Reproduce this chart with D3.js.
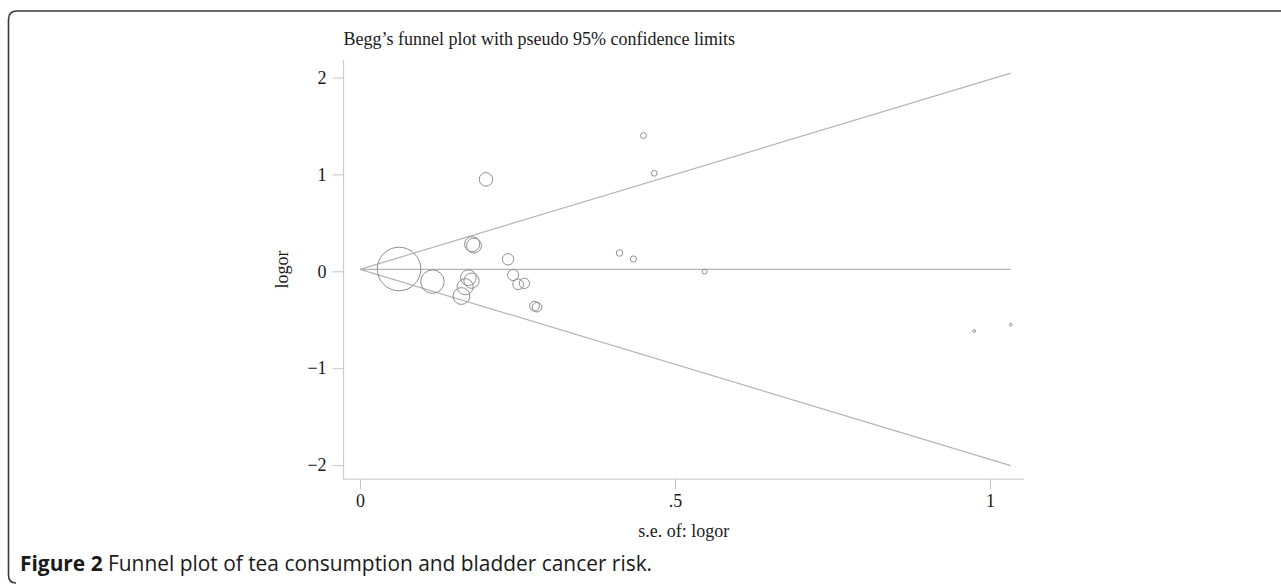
<!DOCTYPE html>
<html>
<head>
<meta charset="utf-8">
<script src="https://cdn.jsdelivr.net/npm/d3@7"></script>
<style>
  html, body { margin: 0; padding: 0; background: #fff; }
  svg { display: block; }
</style>
</head>
<body>
<div id="chart"></div>
<script>
// study standard errors and log odds ratios
const se    = [0.062, 0.115, 0.161, 0.167, 0.172, 0.177, 0.178, 0.181, 0.200, 0.235, 0.243, 0.251, 0.261, 0.277, 0.281, 0.412, 0.434, 0.450, 0.467, 0.547, 0.975, 1.033];
const logor = [0.024, -0.107, -0.255, -0.159, -0.066, -0.097, 0.280, 0.265, 0.949, 0.124, -0.038, -0.134, -0.124, -0.360, -0.370, 0.189, 0.127, 1.400, 1.011, -0.004, -0.616, -0.551];
const pooled = 0.02;
const xTicks = [0, 0.5, 1];
const xTickLabels = ['0', '.5', '1'];
const yTicks = [2, 1, 0, -1, -2];
const yTickLabels = ['2', '1', '0', '\u22121', '\u22122'];
const title = 'Begg\u2019s funnel plot with pseudo 95% confidence limits';
const caption = 'Funnel plot of tea consumption and bladder cancer risk.';

const width = 1281, height = 584;
const serif = '"Liberation Serif", "DejaVu Serif", serif';

const svg = d3.select('#chart').append('svg')
    .attr('width', width)
    .attr('height', height);

// page frame: top rule and left rule with rounded corners
svg.append('path')
    .attr('d', `M${width},11 H17 Q8.5,11 8.5,19.5 V575 Q8.5,583 16,583`)
    .attr('fill', 'none')
    .attr('stroke', '#3a3a3a')
    .attr('stroke-width', 1.6);

const x = d3.scaleLinear().domain([0, 1]).range([360, 990]);
const y = d3.scaleLinear().domain([0, 2]).range([271.3, 77.5]);

const xLo = -0.026, xHi = 1.054;
const yLo = -2.145, yHi = 2.18;
const axisColor = '#c4c4c4';

const plot = svg.append('g');

// y axis
const yAxis = plot.append('g')
    .attr('transform', `translate(${x(xLo)},0)`)
    .call(d3.axisLeft(y).tickValues(yTicks).tickSize(11).tickPadding(6)
        .tickFormat((d, i) => yTickLabels[i]));
yAxis.select('.domain').remove();
yAxis.append('line')
    .attr('y1', y(yHi)).attr('y2', y(yLo))
    .attr('stroke', axisColor);

// x axis
const xAxis = plot.append('g')
    .attr('transform', `translate(0,${y(yLo)})`)
    .call(d3.axisBottom(x).tickValues(xTicks).tickSize(10).tickPadding(5)
        .tickFormat((d, i) => xTickLabels[i]));
xAxis.select('.domain').remove();
xAxis.append('line')
    .attr('x1', x(xLo)).attr('x2', x(xHi))
    .attr('stroke', axisColor);

plot.selectAll('.tick line').attr('stroke', axisColor);
plot.selectAll('.tick text')
    .attr('fill', '#1a1a1a')
    .style('font-family', serif)
    .style('font-size', '18px');

// axis titles and chart title
svg.append('text')
    .attr('x', (x(xLo) + x(xHi)) / 2)
    .attr('y', 537)
    .attr('text-anchor', 'middle')
    .style('font-family', serif)
    .style('font-size', '18px')
    .attr('fill', '#1a1a1a')
    .text('s.e. of: logor');

svg.append('text')
    .attr('transform', `translate(288,${(y(yHi) + y(yLo)) / 2}) rotate(-90)`)
    .attr('text-anchor', 'middle')
    .style('font-family', serif)
    .style('font-size', '18px')
    .attr('fill', '#1a1a1a')
    .text('logor');

svg.append('text')
    .attr('x', x(xLo))
    .attr('y', 45)
    .style('font-family', serif)
    .style('font-size', '18px')
    .attr('fill', '#1a1a1a')
    .text(title);

// pseudo 95% limits and pooled line
const seMax = d3.max(se);
const funnelColor = '#b4b4b4';
const line = d3.line().x(d => x(d[0])).y(d => y(d[1]));
[
  [[0, pooled], [seMax, pooled + 1.96 * seMax]],
  [[0, pooled], [seMax, pooled - 1.96 * seMax]],
  [[0, pooled], [seMax, pooled]]
].forEach(seg => {
  plot.append('path')
      .attr('d', line(seg))
      .attr('fill', 'none')
      .attr('stroke', funnelColor)
      .attr('stroke-width', 1.2);
});

// study markers sized by 1/se
const r = d3.scaleLinear().domain([0, 1]).range([0, 1.35]);
plot.append('g').selectAll('circle')
    .data(se.map((s, i) => ({ se: s, logor: logor[i] })))
    .join('circle')
    .attr('cx', d => x(d.se))
    .attr('cy', d => y(d.logor))
    .attr('r', d => Math.max(1.4, r(1 / d.se)))
    .attr('fill', 'none')
    .attr('stroke', '#8e8e8e')
    .attr('stroke-width', 1);

// caption
const cap = svg.append('text')
    .attr('x', 20)
    .attr('y', 571)
    .style('font-family', '"Open Sans", "Noto Sans", sans-serif')
    .style('font-size', '20.9px')
    .attr('fill', '#1a1a1a');
cap.append('tspan').style('font-weight', 'bold').text('Figure 2');
cap.append('tspan').text(' ' + caption);
</script>
</body>
</html>
